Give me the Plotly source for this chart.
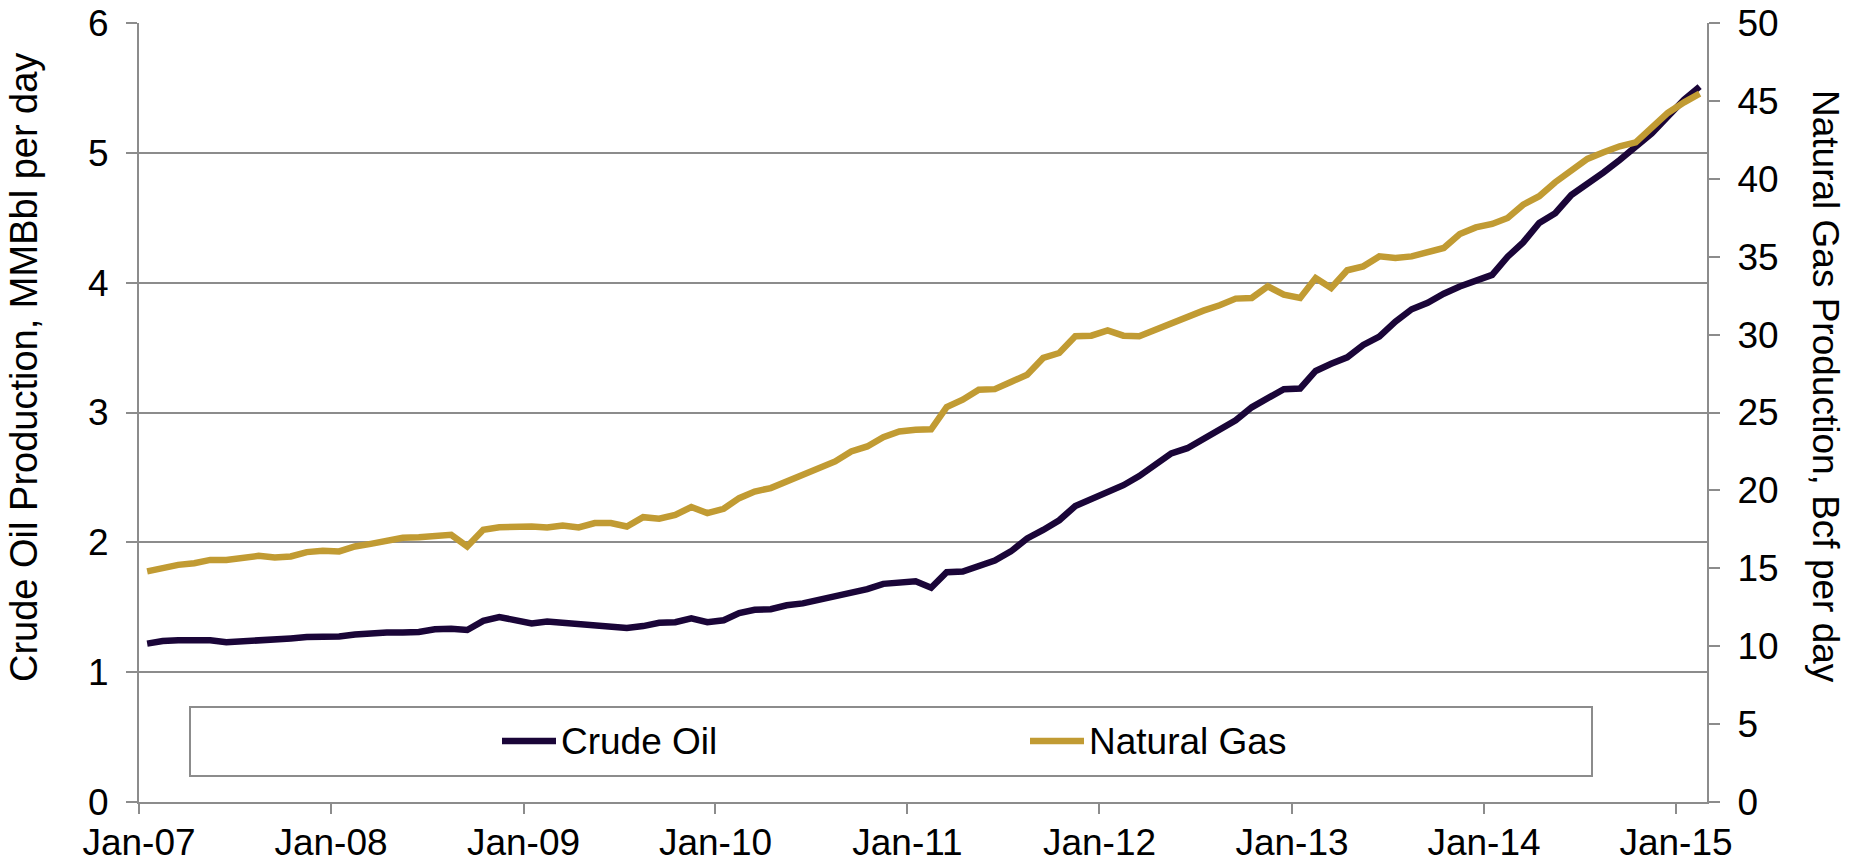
import plotly.graph_objects as go
import pandas as pd

# Monthly observations, Jan-2007 through Feb-2015
months = pd.date_range("2007-01-01", "2015-02-01", freq="MS").strftime("%Y-%m-%d").tolist()

# Crude oil production, MMBbl per day (left axis)
crude_oil = [
    1.22, 1.24, 1.245, 1.25, 1.245, 1.23, 1.235, 1.24, 1.245, 1.26, 1.27, 1.272,
    1.275, 1.29, 1.30, 1.305, 1.305, 1.31, 1.33, 1.335, 1.325, 1.395, 1.425, 1.40,
    1.375, 1.39, 1.38, 1.36, 1.35, 1.345, 1.34, 1.355, 1.38, 1.385, 1.415, 1.385,
    1.40, 1.455, 1.48, 1.485, 1.515, 1.53, 1.555, 1.585, 1.61, 1.64, 1.68, 1.695,
    1.70, 1.65, 1.77, 1.775, 1.82, 1.86, 1.93, 2.03, 2.095, 2.17, 2.28, 2.33,
    2.38, 2.44, 2.51, 2.595, 2.685, 2.725, 2.80, 2.875, 2.94, 3.04, 3.115, 3.18,
    3.185, 3.32, 3.375, 3.425, 3.52, 3.585, 3.70, 3.795, 3.845, 3.915, 3.97, 4.02,
    4.06, 4.20, 4.31, 4.46, 4.535, 4.675, 4.755, 4.85, 4.945, 5.05, 5.15, 5.28,
    5.41, 5.51,
]

# Natural gas production, Bcf per day (right axis)
natural_gas = [
    14.8, 15.05, 15.22, 15.33, 15.54, 15.54, 15.69, 15.80, 15.69, 15.76, 16.04, 16.12,
    16.08, 16.40, 16.57, 16.78, 16.96, 17.0, 17.08, 17.15, 16.40, 17.47, 17.64, 17.68,
    17.68, 17.62, 17.75, 17.62, 17.90, 17.90, 17.68, 18.28, 18.18, 18.43, 18.93, 18.54,
    18.82, 19.50, 19.93, 20.15, 20.57, 21.07, 21.40, 21.86, 22.5, 22.82, 23.42, 23.78,
    23.89, 23.92, 25.35, 25.82, 26.46, 26.5, 26.96, 27.42, 28.5, 28.82, 29.89, 29.93,
    30.27, 29.93, 29.89, 30.31, 30.74, 31.17, 31.54, 31.88, 32.31, 32.35, 33.10, 32.56,
    32.35, 33.63, 32.99, 34.13, 34.38, 35.02, 34.92, 35.02, 35.28, 35.56, 36.45, 36.88,
    37.1, 37.49, 38.34, 38.88, 39.78, 40.55, 41.28, 41.70, 42.09, 42.34, 43.27, 44.23,
    44.91, 45.47,
]

year_ticks = [f"{y}-01-01" for y in range(2007, 2016)]
year_labels = ["Jan-07", "Jan-08", "Jan-09", "Jan-10", "Jan-11",
               "Jan-12", "Jan-13", "Jan-14", "Jan-15"]
oil_ticks = [0, 1, 2, 3, 4, 5, 6]
gas_ticks = [0, 5, 10, 15, 20, 25, 30, 35, 40, 45, 50]

series_names = ["Crude Oil", "Natural Gas"]
OIL_COLOR = "#1a0538"
GAS_COLOR = "#c19b33"
GRID = "#8c8c8c"
FONT = "Liberation Sans, Arial, sans-serif"
FS = 37

W, H = 1854, 864
L, R, T, B = 139, 147, 23, 62
plot_w = W - L - R
plot_h = H - T - B


def px_x(p):
    return (p - L) / plot_w


def px_y(p):
    return (H - B - p) / plot_h


fig = go.Figure()
fig.add_trace(go.Scatter(
    x=months, y=crude_oil, name=series_names[0], mode="lines",
    xperiod="M1", xperiodalignment="middle",
    line=dict(color=OIL_COLOR, width=6.5), yaxis="y",
))
fig.add_trace(go.Scatter(
    x=months, y=natural_gas, name=series_names[1], mode="lines",
    xperiod="M1", xperiodalignment="middle",
    line=dict(color=GAS_COLOR, width=6.5), yaxis="y2",
))

fig.update_layout(
    width=W, height=H,
    margin=dict(l=L, r=R, t=T, b=B, pad=0, autoexpand=False),
    paper_bgcolor="white", plot_bgcolor="white",
    showlegend=False,
    font=dict(family=FONT, size=FS, color="black"),
    xaxis=dict(
        type="date", range=["2007-01-01", "2015-03-01"],
        tickmode="array", tickvals=year_ticks, ticktext=year_labels,
        ticks="outside", ticklen=10, tickwidth=2, tickcolor=GRID,
        showline=True, linecolor=GRID, linewidth=2,
        showgrid=False, zeroline=False, ticklabelstandoff=-3,
        tickfont=dict(size=FS), automargin=False,
    ),
    yaxis=dict(
        range=[0, 6], tickmode="array", tickvals=oil_ticks,
        ticks="outside", ticklen=11, tickwidth=2, tickcolor=GRID,
        showline=True, linecolor=GRID, linewidth=2,
        showgrid=True, gridcolor=GRID, gridwidth=2, zeroline=False,
        ticklabelstandoff=10, tickfont=dict(size=FS), automargin=False,
    ),
    yaxis2=dict(
        range=[0, 50], tickmode="array", tickvals=gas_ticks,
        overlaying="y", side="right",
        ticks="outside", ticklen=11, tickwidth=2, tickcolor=GRID,
        showline=True, linecolor=GRID, linewidth=2,
        showgrid=False, zeroline=False,
        ticklabelstandoff=10, tickfont=dict(size=FS), automargin=False,
    ),
)

# Axis titles
fig.add_annotation(
    text="Crude Oil Production, MMBbl per day", textangle=-90,
    xref="paper", yref="paper", x=px_x(24), y=px_y(368),
    showarrow=False, xanchor="center", yanchor="middle",
    font=dict(size=38),
)
fig.add_annotation(
    text="Natural Gas Production, Bcf per day", textangle=90,
    xref="paper", yref="paper", x=px_x(1826), y=px_y(386),
    showarrow=False, xanchor="center", yanchor="middle",
    font=dict(size=37),
)

# Legend box with line samples
fig.add_shape(
    type="rect", xref="paper", yref="paper",
    x0=px_x(190), x1=px_x(1592), y0=px_y(776), y1=px_y(707),
    line=dict(color=GRID, width=2), fillcolor="white", layer="above",
)
legend_items = [(series_names[0], OIL_COLOR, 502, 556),
                (series_names[1], GAS_COLOR, 1030, 1084)]
for name, color, x0, x1 in legend_items:
    fig.add_shape(
        type="line", xref="paper", yref="paper",
        x0=px_x(x0), x1=px_x(x1), y0=px_y(741), y1=px_y(741),
        line=dict(color=color, width=6.5), layer="above",
    )
    fig.add_annotation(
        text=name, xref="paper", yref="paper",
        x=px_x(x1 + 3), y=px_y(741), xanchor="left", yanchor="middle",
        showarrow=False, font=dict(size=FS),
    )

fig.write_html("out.html")
